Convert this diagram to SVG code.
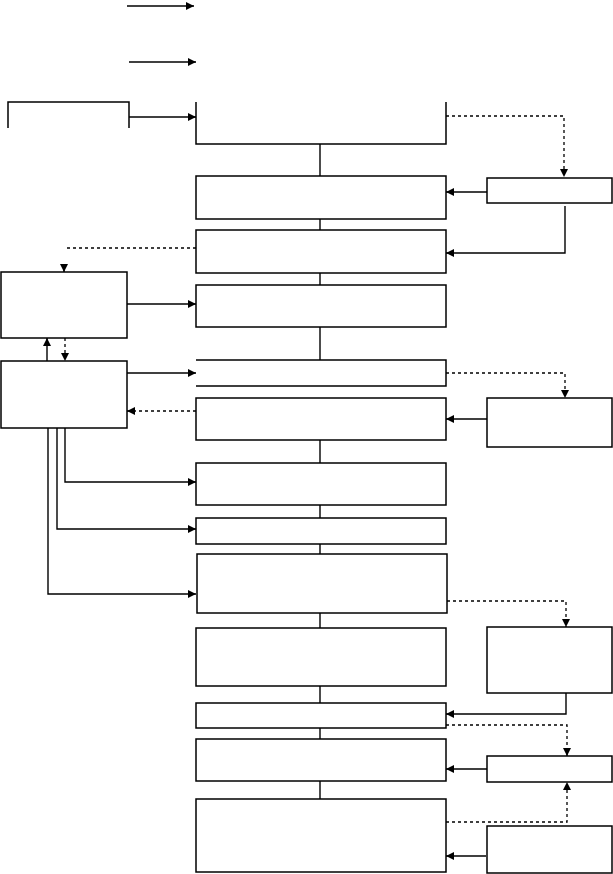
<svg xmlns="http://www.w3.org/2000/svg" width="613" height="874" viewBox="0 0 613 874">
<style>
.n{fill:#fff;stroke:#000;stroke-width:1.5}
.o{fill:none;stroke:#000;stroke-width:1.5}
.c{fill:none;stroke:#000;stroke-width:1.4}
.d{fill:none;stroke:#000;stroke-width:1.3;stroke-dasharray:3,3}
.a{marker-end:url(#ah)}
</style>
<defs>
<marker id="ah" markerWidth="9" markerHeight="9" refX="8" refY="4" orient="auto" markerUnits="userSpaceOnUse"><path d="M0,0 L8,4 L0,8 z" fill="#000"/></marker>
</defs>
<rect width="613" height="874" fill="#fff"/>
<g id="nodes">
<g id="n0"><path class="o" d="M8,128 V102 H129 V128"/></g>
<g id="m1"><path class="o" d="M196,102 V144 H446 V102"/></g>
<g id="m2"><rect class="n" x="196" y="176" width="250" height="43"/></g>
<g id="m3"><rect class="n" x="196" y="230" width="250" height="43"/></g>
<g id="m4"><rect class="n" x="196" y="285" width="250" height="42"/></g>
<g id="m5"><path class="o" d="M196,360 H446 V386 H196"/></g>
<g id="m6"><rect class="n" x="196" y="398" width="250" height="42"/></g>
<g id="m7"><rect class="n" x="196" y="463" width="250" height="42"/></g>
<g id="m8"><rect class="n" x="196" y="518" width="250" height="26"/></g>
<g id="m9"><rect class="n" x="197" y="554" width="250" height="59"/></g>
<g id="m10"><rect class="n" x="196" y="628" width="250" height="58"/></g>
<g id="m11"><rect class="n" x="196" y="703" width="250" height="25"/></g>
<g id="m12"><rect class="n" x="196" y="739" width="250" height="42"/></g>
<g id="m13"><rect class="n" x="196" y="799" width="250" height="73"/></g>
<g id="l1"><rect class="n" x="1" y="272" width="126" height="66"/></g>
<g id="l2"><rect class="n" x="1" y="361" width="126" height="67"/></g>
<g id="r1"><rect class="n" x="487" y="178" width="125" height="25"/></g>
<g id="r2"><rect class="n" x="487" y="398" width="125" height="49"/></g>
<g id="r3"><rect class="n" x="487" y="627" width="125" height="66"/></g>
<g id="r4"><rect class="n" x="487" y="756" width="125" height="26"/></g>
<g id="r5"><rect class="n" x="487" y="826" width="125" height="47"/></g>
</g>
<g id="connectors">
<path class="c a" d="M127,6 H194"/>
<path class="c a" d="M129,62 H196"/>
<path class="c a" d="M129,117 H196"/>
<path class="d a" d="M446,116 H564 V177"/>
<path class="c" d="M320,144 V176"/>
<path class="c a" d="M487,192 H446"/>
<path class="c a" d="M565,206 V253 H446"/>
<path class="c" d="M320,219 V230"/>
<path class="d" d="M196,248 H66"/>
<path class="c a" d="M64,265 V272"/>
<path class="c a" d="M127,304 H196"/>
<path class="c" d="M320,273 V285"/>
<path class="c" d="M320,327 V360"/>
<path class="c a" d="M47,361 V338"/>
<path class="d a" d="M65,338 V361"/>
<path class="c a" d="M127,373 H196"/>
<path class="d a" d="M446,373 H565 V398"/>
<path class="c a" d="M487,419 H446"/>
<path class="d a" d="M196,411 H127"/>
<path class="c" d="M320,440 V463"/>
<path class="c a" d="M65,428 V482 H196"/>
<path class="c a" d="M57,428 V529 H196"/>
<path class="c a" d="M48,428 V594 H196"/>
<path class="c" d="M320,505 V518"/>
<path class="c" d="M320,544 V554"/>
<path class="d a" d="M447,601 H566 V627"/>
<path class="c" d="M320,613 V628"/>
<path class="c" d="M320,686 V703"/>
<path class="c a" d="M566,693 V714 H446"/>
<path class="d a" d="M446,725 H567 V756"/>
<path class="c" d="M320,728 V739"/>
<path class="c a" d="M487,769 H446"/>
<path class="c" d="M320,781 V799"/>
<path class="d a" d="M446,822 H567 V782"/>
<path class="c a" d="M486,856 H446"/>
</g>
</svg>
